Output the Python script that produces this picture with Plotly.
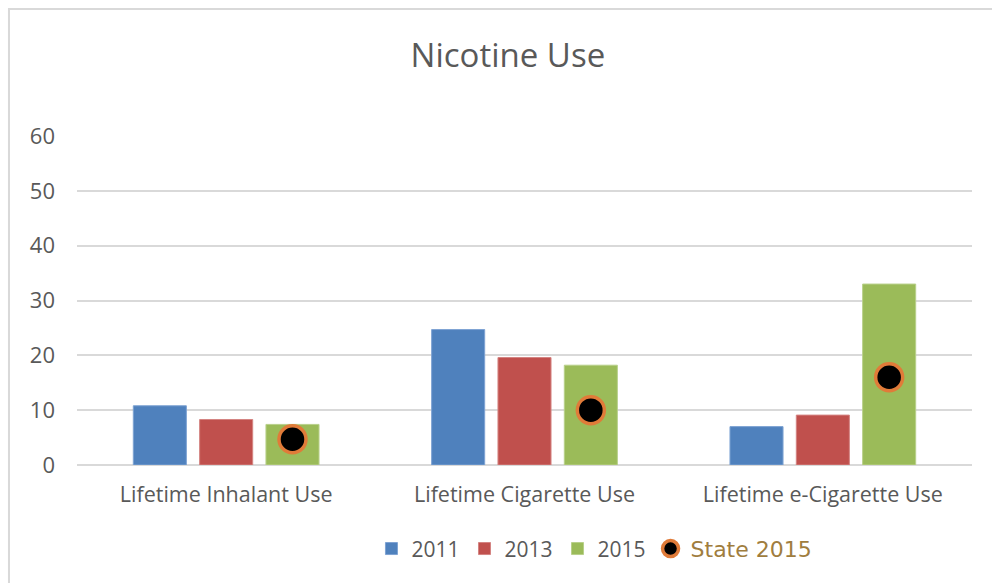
import plotly.graph_objects as go

categories = ["Lifetime Inhalant Use", "Lifetime Cigarette Use", "Lifetime e-Cigarette Use"]
years = ["2011", "2013", "2015"]
values_2011 = [10.8, 24.7, 7.0]
values_2013 = [8.3, 19.6, 9.1]
values_2015 = [7.4, 18.2, 33.0]
state_2015 = [4.7, 10.0, 16.0]
y_ticks = [0, 10, 20, 30, 40, 50, 60]

colors = ["#4F81BD", "#C0504D", "#9BBB59"]
line_colors = ["#7EA3D3", "#D48482", "#B8D08A"]
BARGAP = 0.333
BARGROUPGAP = 0.2
FONT = "'Open Sans', Lato, sans-serif"
GRAY = "#595959"
STATE_COLOR = "#A07D3E"

fig = go.Figure()
for name, vals, c, lc in zip(years, [values_2011, values_2013, values_2015], colors, line_colors):
    fig.add_trace(go.Bar(
        x=categories, y=vals, name=name,
        marker=dict(color=c, line=dict(color=lc, width=1)),
    ))

# State 2015 dots aligned with the 2015 bar slot
n_series = len(years)
slot = (1 - BARGAP) / n_series
dot_offset = -(1 - BARGAP) / 2 + slot * (n_series - 0.5)
dot_x = [i + dot_offset for i in range(len(categories))]
fig.add_trace(go.Scatter(
    x=dot_x, y=state_2015,
    name="<span style='color:%s;font-family:DejaVu Sans;font-size:22px'>State 2015</span>" % STATE_COLOR,
    mode="markers", xaxis="x2",
    marker=dict(color="black", size=27, line=dict(color="#E07B39", width=3.5)),
))

fig.update_layout(
    width=992, height=583,
    paper_bgcolor="white", plot_bgcolor="white",
    margin=dict(l=77, r=20, t=136, b=118),
    barmode="group", bargap=BARGAP, bargroupgap=BARGROUPGAP,
    font=dict(family=FONT, color=GRAY, size=20),
    title=dict(text="Nicotine Use", x=0.512, xanchor="center", y=0.905, yanchor="middle",
               font=dict(size=33, color=GRAY, family=FONT)),
    xaxis=dict(type="category", range=[-0.5, 2.5], showgrid=False, showline=False,
               zeroline=False, ticks="", ticklabelstandoff=14,
               tickfont=dict(size=21.5, color=GRAY)),
    xaxis2=dict(overlaying="x", range=[-0.5, 2.5], visible=False),
    yaxis=dict(range=[0, 60], tickvals=y_ticks, showgrid=True, gridcolor="#D9D9D9",
               gridwidth=1.5, zeroline=True, zerolinecolor="#D9D9D9", zerolinewidth=1.5,
               showline=False, ticks="", ticklabelstandoff=21,
               tickfont=dict(size=22, color=GRAY)),
    legend=dict(orientation="h", x=0.329, xanchor="left", y=-0.255, yanchor="middle",
                font=dict(size=21, color=GRAY, family=FONT), itemsizing="trace",
                traceorder="normal"),
    showlegend=True,
    shapes=[dict(type="rect", xref="paper", yref="paper",
                 x0=-0.076, x1=1.2, y0=-0.6, y1=1.386,
                 line=dict(color="#D9D9D9", width=2), fillcolor="rgba(0,0,0,0)", layer="below")],
)

fig.write_html("out.html", config={"displayModeBar": False},
               post_script="document.body.style.margin='0';document.body.style.overflow='hidden';")
